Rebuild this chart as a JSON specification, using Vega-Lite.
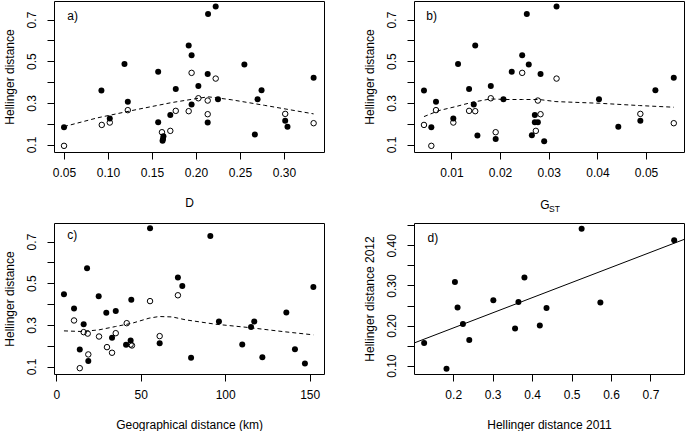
{
  "$schema": "https://vega.github.io/schema/vega-lite/v6.json",
  "background": "white",
  "padding": {"left": 2, "top": 0, "right": 0, "bottom": 0},
  "columns": 2,
  "spacing": {"row": 71, "column": 90},
  "bounds": "flush",
  "datasets": {
    "a_pts": [
      {"x":0.05,"y":0.183,"t":"f"},{"x":0.0925,"y":0.359,"t":"f"},{"x":0.102,"y":0.225,"t":"f"},{"x":0.1187,"y":0.487,"t":"f"},
      {"x":0.1225,"y":0.305,"t":"f"},{"x":0.157,"y":0.449,"t":"f"},{"x":0.157,"y":0.207,"t":"f"},{"x":0.163,"y":0.14,"t":"f"},
      {"x":0.1625,"y":0.127,"t":"f"},{"x":0.162,"y":0.118,"t":"f"},{"x":0.1708,"y":0.242,"t":"f"},{"x":0.177,"y":0.367,"t":"f"},
      {"x":0.1917,"y":0.575,"t":"f"},{"x":0.195,"y":0.528,"t":"f"},{"x":0.195,"y":0.292,"t":"f"},{"x":0.2027,"y":0.381,"t":"f"},
      {"x":0.2137,"y":0.727,"t":"f"},{"x":0.2133,"y":0.439,"t":"f"},{"x":0.2133,"y":0.2055,"t":"f"},{"x":0.2224,"y":0.762,"t":"f"},
      {"x":0.225,"y":0.317,"t":"f"},{"x":0.255,"y":0.484,"t":"f"},{"x":0.2669,"y":0.148,"t":"f"},{"x":0.27,"y":0.317,"t":"f"},
      {"x":0.2745,"y":0.361,"t":"f"},{"x":0.3014,"y":0.2135,"t":"f"},{"x":0.304,"y":0.185,"t":"f"},{"x":0.3337,"y":0.421,"t":"f"},
      {"x":0.05,"y":0.0936,"t":"o"},{"x":0.0929,"y":0.194,"t":"o"},{"x":0.102,"y":0.2055,"t":"o"},{"x":0.1225,"y":0.265,"t":"o"},
      {"x":0.1613,"y":0.159,"t":"o"},{"x":0.1708,"y":0.1655,"t":"o"},{"x":0.177,"y":0.2615,"t":"o"},{"x":0.1917,"y":0.26,"t":"o"},
      {"x":0.195,"y":0.444,"t":"o"},{"x":0.2027,"y":0.322,"t":"o"},{"x":0.2133,"y":0.311,"t":"o"},{"x":0.2133,"y":0.2455,"t":"o"},
      {"x":0.2224,"y":0.4165,"t":"o"},{"x":0.3014,"y":0.247,"t":"o"},{"x":0.3337,"y":0.2023,"t":"o"}
    ],
    "a_fit": [
      {"x":0.05,"y":0.186},{"x":0.088,"y":0.228},{"x":0.134,"y":0.269},{"x":0.172,"y":0.301},{"x":0.2027,"y":0.322},
      {"x":0.214,"y":0.329},{"x":0.24,"y":0.315},{"x":0.278,"y":0.288},{"x":0.316,"y":0.26},{"x":0.3337,"y":0.247}
    ],
    "b_pts": [
      {"x":0.00437,"y":0.359,"t":"f"},{"x":0.00588,"y":0.183,"t":"f"},{"x":0.00684,"y":0.305,"t":"f"},{"x":0.0104,"y":0.225,"t":"f"},
      {"x":0.01137,"y":0.487,"t":"f"},{"x":0.01364,"y":0.367,"t":"f"},{"x":0.0146,"y":0.292,"t":"f"},{"x":0.0149,"y":0.575,"t":"f"},
      {"x":0.01535,"y":0.143,"t":"f"},{"x":0.0181,"y":0.381,"t":"f"},{"x":0.0191,"y":0.127,"t":"f"},{"x":0.0207,"y":0.317,"t":"f"},
      {"x":0.0224,"y":0.449,"t":"f"},{"x":0.02455,"y":0.528,"t":"f"},{"x":0.0255,"y":0.727,"t":"f"},{"x":0.0259,"y":0.484,"t":"f"},
      {"x":0.02654,"y":0.145,"t":"f"},{"x":0.02715,"y":0.242,"t":"f"},{"x":0.02715,"y":0.207,"t":"f"},{"x":0.02777,"y":0.207,"t":"f"},
      {"x":0.02832,"y":0.439,"t":"f"},{"x":0.02907,"y":0.116,"t":"f"},{"x":0.03161,"y":0.762,"t":"f"},{"x":0.04033,"y":0.317,"t":"f"},
      {"x":0.0443,"y":0.185,"t":"f"},{"x":0.04883,"y":0.2135,"t":"f"},{"x":0.05192,"y":0.361,"t":"f"},{"x":0.0557,"y":0.421,"t":"f"},
      {"x":0.00437,"y":0.194,"t":"o"},{"x":0.00588,"y":0.0936,"t":"o"},{"x":0.00684,"y":0.265,"t":"o"},{"x":0.0104,"y":0.2055,"t":"o"},
      {"x":0.01364,"y":0.2615,"t":"o"},{"x":0.0149,"y":0.26,"t":"o"},{"x":0.0191,"y":0.159,"t":"o"},{"x":0.0181,"y":0.322,"t":"o"},
      {"x":0.02455,"y":0.444,"t":"o"},{"x":0.02736,"y":0.1655,"t":"o"},{"x":0.02777,"y":0.311,"t":"o"},{"x":0.02832,"y":0.2455,"t":"o"},
      {"x":0.03161,"y":0.4165,"t":"o"},{"x":0.04883,"y":0.247,"t":"o"},{"x":0.0557,"y":0.2023,"t":"o"}
    ],
    "b_fit": [
      {"x":0.00437,"y":0.234},{"x":0.00746,"y":0.263},{"x":0.01089,"y":0.282},{"x":0.01432,"y":0.303},{"x":0.0181,"y":0.319},
      {"x":0.0212,"y":0.316},{"x":0.02461,"y":0.316},{"x":0.02804,"y":0.316},{"x":0.03148,"y":0.306},{"x":0.0404,"y":0.298},
      {"x":0.04863,"y":0.287},{"x":0.0557,"y":0.279}
    ],
    "c_pts": [
      {"x":4.54,"y":0.447,"t":"f"},{"x":10.5,"y":0.378,"t":"f"},{"x":13.9,"y":0.182,"t":"f"},{"x":16.2,"y":0.303,"t":"f"},
      {"x":18.2,"y":0.572,"t":"f"},{"x":18.95,"y":0.126,"t":"f"},{"x":25.1,"y":0.4376,"t":"f"},{"x":29.6,"y":0.358,"t":"f"},
      {"x":33.0,"y":0.238,"t":"f"},{"x":35.2,"y":0.366,"t":"f"},{"x":41.3,"y":0.204,"t":"f"},{"x":44.0,"y":0.225,"t":"f"},
      {"x":44.4,"y":0.42,"t":"f"},{"x":55.5,"y":0.764,"t":"f"},{"x":61.2,"y":0.212,"t":"f"},{"x":72.0,"y":0.527,"t":"f"},
      {"x":74.6,"y":0.486,"t":"f"},{"x":79.8,"y":0.142,"t":"f"},{"x":91.2,"y":0.727,"t":"f"},{"x":96.3,"y":0.316,"t":"f"},
      {"x":110.1,"y":0.2056,"t":"f"},{"x":115.3,"y":0.29,"t":"f"},{"x":117.2,"y":0.316,"t":"f"},{"x":122.0,"y":0.145,"t":"f"},
      {"x":136.2,"y":0.359,"t":"f"},{"x":141.3,"y":0.183,"t":"f"},{"x":147.2,"y":0.114,"t":"f"},{"x":152.2,"y":0.482,"t":"f"},
      {"x":10.5,"y":0.321,"t":"o"},{"x":13.9,"y":0.092,"t":"o"},{"x":16.2,"y":0.265,"t":"o"},{"x":18.6,"y":0.258,"t":"o"},
      {"x":18.95,"y":0.158,"t":"o"},{"x":25.3,"y":0.244,"t":"o"},{"x":30.0,"y":0.193,"t":"o"},{"x":33.0,"y":0.166,"t":"o"},
      {"x":35.2,"y":0.26,"t":"o"},{"x":41.7,"y":0.308,"t":"o"},{"x":44.0,"y":0.2055,"t":"o"},{"x":44.8,"y":0.201,"t":"o"},
      {"x":55.5,"y":0.414,"t":"o"},{"x":61.2,"y":0.246,"t":"o"},{"x":72.0,"y":0.442,"t":"o"}
    ],
    "c_fit": [
      {"x":4.54,"y":0.271},{"x":15.4,"y":0.268},{"x":25.3,"y":0.276},{"x":35.1,"y":0.292},{"x":45.0,"y":0.308},
      {"x":54.9,"y":0.332},{"x":60.8,"y":0.34},{"x":68.7,"y":0.338},{"x":76.6,"y":0.324},{"x":94.3,"y":0.303},
      {"x":114.1,"y":0.287},{"x":133.8,"y":0.268},{"x":152.2,"y":0.252}
    ],
    "d_pts": [
      {"x":0.1263,"y":0.1565},{"x":0.183,"y":0.0925},{"x":0.2043,"y":0.309},{"x":0.211,"y":0.245},{"x":0.2246,"y":0.204},
      {"x":0.2407,"y":0.164},{"x":0.3017,"y":0.263},{"x":0.3568,"y":0.1925},{"x":0.3653,"y":0.259},{"x":0.3805,"y":0.32},
      {"x":0.4195,"y":0.2},{"x":0.4365,"y":0.244},{"x":0.5255,"y":0.4415},{"x":0.573,"y":0.2575},{"x":0.7601,"y":0.4125}
    ],
    "d_fit": [{"x":0.1006,"y":0.1565},{"x":0.785,"y":0.4148}],
    "tags": [
      {"p":"a","x":0.0538,"y":0.716,"s":"a)"},
      {"p":"b","x":0.00486,"y":0.716,"s":"b)"},
      {"p":"c","x":6.5,"y":0.73,"s":"c)"},
      {"p":"d","x":0.1347,"y":0.4175,"s":"d)"}
    ],
    "gst": [{"x":0.03006,"y":-0.19}]
  },
  "concat": [
    {
      "width": 270, "height": 151,
      "encoding": {
        "x": {"field":"x","type":"quantitative","scale":{"domain":[0.0386,0.3455],"zero":false,"nice":false},
              "axis":{"title":"D","values":[0.05,0.1,0.15,0.2,0.25,0.3],"format":".2f"}},
        "y": {"field":"y","type":"quantitative","scale":{"domain":[0.064,0.789],"zero":false,"nice":false},
              "axis":{"title":"Hellinger distance","values":[0.1,0.2,0.3,0.4,0.5,0.6,0.7],"format":".1f","labelExpr":"round(datum.value*10)%2==1 ? datum.label : ''"}}
      },
      "layer": [
        {"data":{"name":"a_pts"},"transform":[{"filter":"datum.t=='f'"}],"mark":{"type":"circle","color":"black","size":36,"opacity":1}},
        {"data":{"name":"a_pts"},"transform":[{"filter":"datum.t=='o'"}],"mark":{"type":"point","shape":"circle","filled":false,"stroke":"black","strokeWidth":1,"size":30,"opacity":1}},
        {"data":{"name":"a_fit"},"mark":{"type":"line","color":"black","strokeWidth":1,"strokeDash":[4,3]}},
        {"data":{"name":"tags"},"transform":[{"filter":"datum.p=='a'"}],"mark":{"type":"text","align":"left","baseline":"middle","fontSize":12,"font":"Liberation Sans","color":"black"},"encoding":{"text":{"field":"s"}}}
      ]
    },
    {
      "width": 270, "height": 151,
      "encoding": {
        "x": {"field":"x","type":"quantitative","scale":{"domain":[0.00232,0.0578],"zero":false,"nice":false},
              "axis":{"title":null,"values":[0.01,0.02,0.03,0.04,0.05],"format":".2f"}},
        "y": {"field":"y","type":"quantitative","scale":{"domain":[0.064,0.789],"zero":false,"nice":false},
              "axis":{"title":"Hellinger distance","values":[0.1,0.2,0.3,0.4,0.5,0.6,0.7],"format":".1f","labelExpr":"round(datum.value*10)%2==1 ? datum.label : ''"}}
      },
      "layer": [
        {"data":{"name":"b_pts"},"transform":[{"filter":"datum.t=='f'"}],"mark":{"type":"circle","color":"black","size":36,"opacity":1}},
        {"data":{"name":"b_pts"},"transform":[{"filter":"datum.t=='o'"}],"mark":{"type":"point","shape":"circle","filled":false,"stroke":"black","strokeWidth":1,"size":30,"opacity":1}},
        {"data":{"name":"b_fit"},"mark":{"type":"line","color":"black","strokeWidth":1,"strokeDash":[4,3]}},
        {"data":{"name":"tags"},"transform":[{"filter":"datum.p=='b'"}],"mark":{"type":"text","align":"left","baseline":"middle","fontSize":12,"font":"Liberation Sans","color":"black"},"encoding":{"text":{"field":"s"}}},
        {"data":{"name":"gst"},"mark":{"type":"text","align":"right","baseline":"middle","fontSize":12,"font":"Liberation Sans","color":"black","dx":0.5,"text":"G"}},
        {"data":{"name":"gst"},"mark":{"type":"text","align":"left","baseline":"middle","fontSize":8.5,"font":"Liberation Sans","color":"black","dy":4,"text":"ST"}}
      ]
    },
    {
      "width": 270, "height": 151,
      "encoding": {
        "x": {"field":"x","type":"quantitative","scale":{"domain":[-1.36,158.5],"zero":false,"nice":false},
              "axis":{"title":"Geographical distance (km)","values":[0,50,100,150],"format":"d"}},
        "y": {"field":"y","type":"quantitative","scale":{"domain":[0.064,0.789],"zero":false,"nice":false},
              "axis":{"title":"Hellinger distance","values":[0.1,0.2,0.3,0.4,0.5,0.6,0.7],"format":".1f","labelExpr":"round(datum.value*10)%2==1 ? datum.label : ''"}}
      },
      "layer": [
        {"data":{"name":"c_pts"},"transform":[{"filter":"datum.t=='o'"}],"mark":{"type":"point","shape":"circle","filled":false,"stroke":"black","strokeWidth":1,"size":30,"opacity":1}},
        {"data":{"name":"c_pts"},"transform":[{"filter":"datum.t=='f'"}],"mark":{"type":"circle","color":"black","size":36,"opacity":1}},
        {"data":{"name":"c_fit"},"mark":{"type":"line","color":"black","strokeWidth":1,"strokeDash":[4,3]}},
        {"data":{"name":"tags"},"transform":[{"filter":"datum.p=='c'"}],"mark":{"type":"text","align":"left","baseline":"middle","fontSize":12,"font":"Liberation Sans","color":"black"},"encoding":{"text":{"field":"s"}}}
      ]
    },
    {
      "width": 270, "height": 151,
      "encoding": {
        "x": {"field":"x","type":"quantitative","scale":{"domain":[0.1006,0.785],"zero":false,"nice":false},
              "axis":{"title":"Hellinger distance 2011","values":[0.2,0.3,0.4,0.5,0.6,0.7],"format":".1f"}},
        "y": {"field":"y","type":"quantitative","scale":{"domain":[0.0793,0.4558],"zero":false,"nice":false},
              "axis":{"title":"Hellinger distance 2012","values":[0.1,0.15,0.2,0.25,0.3,0.35,0.4,0.45],"format":".2f","labelExpr":"round(datum.value*20)%2==0 ? datum.label : ''"}}
      },
      "layer": [
        {"data":{"name":"d_pts"},"mark":{"type":"circle","color":"black","size":36,"opacity":1}},
        {"data":{"name":"d_fit"},"mark":{"type":"line","color":"black","strokeWidth":1,"clip":true}},
        {"data":{"name":"tags"},"transform":[{"filter":"datum.p=='d'"}],"mark":{"type":"text","align":"left","baseline":"middle","fontSize":12,"font":"Liberation Sans","color":"black"},"encoding":{"text":{"field":"s"}}}
      ]
    }
  ],
  "config": {
    "font": "Liberation Sans",
    "view": {"stroke": "black", "strokeWidth": 1},
    "axis": {
      "domain": false, "grid": false, "ticks": true, "tickColor": "black", "tickSize": 7, "tickWidth": 1,
      "labelColor": "black", "labelFontSize": 12, "labelFont": "Liberation Sans",
      "titleFont": "Liberation Sans", "titleFontSize": 12, "titleFontWeight": "normal", "titleColor": "black",
      "labelFlush": false, "labelOverlap": false
    },
    "axisX": {"labelPadding": 8, "titlePadding": 19},
    "axisY": {"labelAngle": 270, "labelAlign": "center", "labelBaseline": "alphabetic", "labelPadding": 11.5, "titlePadding": 9}
  }
}
